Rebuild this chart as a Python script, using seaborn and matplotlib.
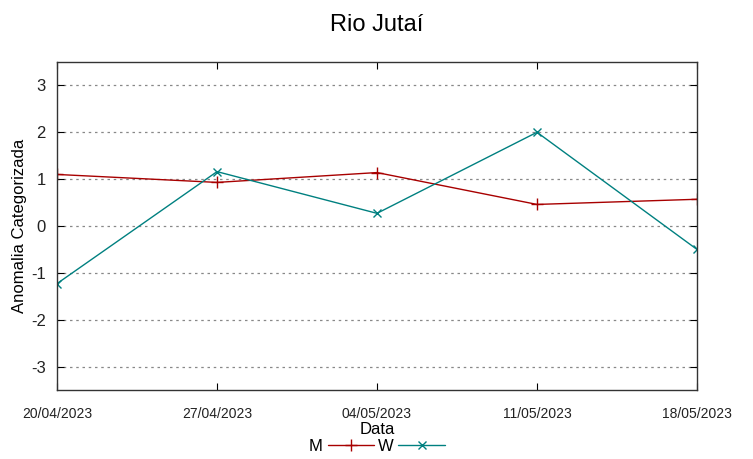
import matplotlib
matplotlib.use("Agg")
import matplotlib.pyplot as plt
import seaborn as sns
import pandas as pd

dates = ["2023-04-20", "2023-04-27", "2023-05-04", "2023-05-11", "2023-05-18"]
m_values = [1.10, 0.93, 1.14, 0.46, 0.57]
w_values = [-1.23, 1.16, 0.27, 2.00, -0.50]
tick_labels = ["20/04/2023", "27/04/2023", "04/05/2023", "11/05/2023", "18/05/2023"]

sns.set_style("white")
plt.rcParams['font.family'] = ['Liberation Sans', 'DejaVu Sans']
plt.rcParams['axes.unicode_minus'] = False
plt.rcParams['text.color'] = 'black'
plt.rcParams['axes.labelcolor'] = 'black'
plt.rcParams['xtick.color'] = 'black'
plt.rcParams['ytick.color'] = 'black'

df = pd.DataFrame({"Data": pd.to_datetime(dates), "M": m_values, "W": w_values})

fig = plt.figure(figsize=(7.53, 4.59), dpi=100)
ax = fig.add_axes([0.0757, 0.1503, 0.8499, 0.7147])

sns.lineplot(data=df, x="Data", y="M", ax=ax, color="#a80000", marker="+",
             markersize=8, markeredgewidth=1.0, markeredgecolor="#a80000",
             linewidth=1.0, label="M")
sns.lineplot(data=df, x="Data", y="W", ax=ax, color="#008080", marker="x",
             markersize=6, markeredgewidth=1.0, markeredgecolor="#008080",
             linewidth=1.0, label="W")

ax.set_xlim(df["Data"].iloc[0], df["Data"].iloc[-1])
ax.set_ylim(-3.5, 3.5)
ax.set_yticks([-3, -2, -1, 0, 1, 2, 3])
ax.set_xticks(df["Data"])
ax.set_xticklabels(tick_labels, fontsize=10)
for t in ax.get_yticklabels():
    t.set_fontsize(12)
ax.tick_params(axis="both", direction="in", length=5, color="black",
               labelcolor="#222222",
               top=True, right=True, bottom=True, left=True)
ax.tick_params(axis="x", pad=12)
ax.tick_params(axis="y", pad=8)
ax.yaxis.grid(True, linestyle=(0, (2, 3)), color="#888888", linewidth=0.9)
ax.xaxis.grid(False)
for s in ax.spines.values():
    s.set_visible(True)
    s.set_color("#333333")
    s.set_linewidth(1.0)

ax.set_xlabel("Data", fontsize=12, labelpad=1, color="black")
ax.set_ylabel("Anomalia Categorizada", fontsize=12, labelpad=3, color="black")
fig.suptitle("Rio Jutaí", fontsize=17, y=0.97, color="black")

leg = ax.legend(loc="center", bbox_to_anchor=(0.5, -0.173), ncol=2,
                frameon=False, markerfirst=False, fontsize=12,
                handlelength=2.8, columnspacing=0.2, handletextpad=0.3,
                borderpad=0, borderaxespad=0)
for t in leg.get_texts():
    t.set_color("black")

fig.savefig("out.png", dpi=100, facecolor="white")
